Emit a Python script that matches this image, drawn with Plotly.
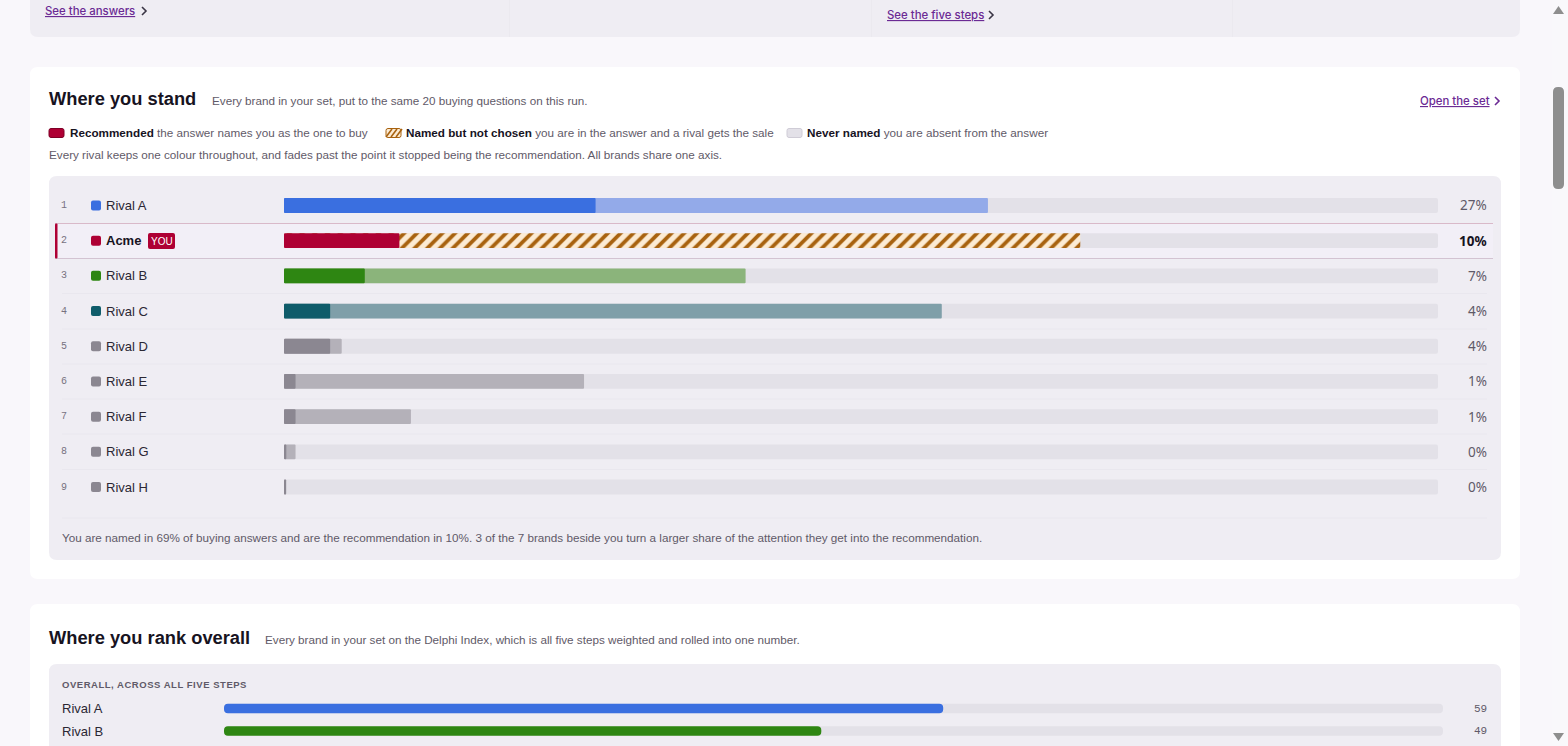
import plotly.graph_objects as go

W, H = 1568, 746

# chart data
brands = ["Rival A", "Acme", "Rival B", "Rival C", "Rival D", "Rival E", "Rival F", "Rival G", "Rival H"]
ranks = [1, 2, 3, 4, 5, 6, 7, 8, 9]
recommended = [27, 10, 7, 4, 4, 1, 1, 0.2, 0.1]
named = [61, 69, 40, 57, 5, 26, 11, 1, 0.2]
value_labels = ["27%", "10%", "7%", "4%", "4%", "1%", "1%", "0%", "0%"]
rec_colors = ["#3a6fe0", "#ae0034", "#2e8612", "#0f5c6a", "#8b8791", "#8b8791", "#8b8791", "#8b8791", "#8b8791"]
named_colors = ["#93aae9", "#fcebd3", "#8bb47b", "#7f9fa9", "#b4b1b9", "#b4b1b9", "#b4b1b9", "#b4b1b9", "#b4b1b9"]

overall_brands = ["Rival A", "Rival B"]
overall_index = [59, 49]
overall_colors = ["#3a6fe0", "#2e8612"]
full_scale = 100

TRACK = "#e3e1e8"
PAGE = "#f9f7fb"
PANEL = "#efedf3"
INK = "#17131f"
MUTED = "#5f5a68"
LINK = "#6b2a94"
HATCH = "#a8620f"
BODY = "Liberation Sans"
NUM = "Noto Sans"
SMALL = 11.7
HEAD = 18.3


def X(px):
    return px / W


def Y(py):
    return 1 - py / H


def rounded(x0, y0, x1, y1, r):
    a, b, c, d = X(x0), Y(y0), X(x1), Y(y1)
    rx, ry = r / W, r / H
    return (f"M{a + rx},{b} L{c - rx},{b} Q{c},{b} {c},{b - ry} L{c},{d + ry} Q{c},{d} {c - rx},{d} "
            f"L{a + rx},{d} Q{a},{d} {a},{d + ry} L{a},{b - ry} Q{a},{b} {a + rx},{b} Z")


shapes = []
annotations = []


def box(x0, y0, x1, y1, fill, r=0, line=None, lw=1):
    shapes.append(dict(type="path", path=rounded(x0, y0, x1, y1, r), xref="paper", yref="paper",
                       fillcolor=fill, line=dict(color=line or fill, width=lw if line else 0), layer="below"))


def stroke(points, color, width=1, layer="below"):
    path = "M" + " L".join(f"{X(a)},{Y(b)}" for a, b in points)
    shapes.append(dict(type="path", path=path, xref="paper", yref="paper",
                       line=dict(color=color, width=width), layer=layer))


def text(x, y, s, size=SMALL, color=MUTED, anchor="left", family=BODY, weight=None):
    font = dict(size=size, color=color, family=family)
    if weight:
        font["weight"] = weight
    annotations.append(dict(x=X(x), y=Y(y), xref="paper", yref="paper", text=s,
                            showarrow=False, xanchor=anchor, yanchor="middle", borderpad=0, borderwidth=0,
                            font=font))


def chevron(x, y, color):
    stroke([(x, y - 4), (x + 4, y), (x, y + 4)], color, 1.6, layer="above")


def link(x, y, s, anchor="left"):
    text(x, y, f"<u>{s}</u>", 11.4, LINK, anchor=anchor, family="Inter", weight=500)


# page furniture
box(30, -20, 1520, 37, PANEL, 8)
for x in (509.5, 871.5, 1232.5):
    stroke([(x, 0), (x, 37)], "#ebe9ef")
box(30, 67, 1520, 579, "#ffffff", 8)
box(49, 176, 1501, 560, PANEL, 8)
box(30, 604, 1520, 790, "#ffffff", 8)
box(49, 664, 1501, 790, PANEL, 8)

# scrollbar
box(1552, 0, 1568, 746, "#f9f8fb")
box(1553, 87, 1564, 189, "#8e8e8e", 5)
shapes.append(dict(type="path", xref="paper", yref="paper", fillcolor="#8e8e8e", line=dict(width=0), layer="below",
                   path=f"M{X(1553)},{Y(14)} L{X(1564)},{Y(14)} L{X(1558.5)},{Y(6)} Z"))
shapes.append(dict(type="path", xref="paper", yref="paper", fillcolor="#8e8e8e", line=dict(width=0), layer="below",
                   path=f"M{X(1553)},{Y(733)} L{X(1564)},{Y(733)} L{X(1558.5)},{Y(741)} Z"))

# links in the card above
link(45, 11, "See the answers")
chevron(142, 11, "#3a3545")
link(887, 15, "See the five steps")
chevron(989, 15, "#3a3545")

# header of the first card
text(49, 98.5, "<b>Where you stand</b>", HEAD, INK)
text(212, 100.6, "Every brand in your set, put to the same 20 buying questions on this run.")
link(1490, 101, "Open the set", anchor="right")
chevron(1495, 101, LINK)

# legend row
box(49, 128.5, 64, 137.5, rec_colors[1], 2, line="#7e0026")
text(70, 132.4, f'<b><span style="color:{INK}">Recommended</span></b> the answer names you as the one to buy')
box(386, 128.5, 401, 137.5, named_colors[1], 2, line=HATCH)
for off in (0, 5, 10):
    stroke([(386 + off, 137), (392 + off, 129)], HATCH, 1.6)
text(406, 132.4, f'<b><span style="color:{INK}">Named but not chosen</span></b> you are in the answer and a rival gets the sale')
box(787, 128.5, 802, 137.5, TRACK, 2, line="#cfccd6")
text(807, 132.4, f'<b><span style="color:{INK}">Never named</span></b> you are absent from the answer')
text(49, 154.4, "Every rival keeps one colour throughout, and fades past the point it stopped being the recommendation. All brands share one axis.")

# highlighted row and separators
box(55, 223.5, 1493, 258.5, "#f2eff7")
stroke([(55, 223.5), (1493, 223.5)], "#d9b9c9")
stroke([(55, 258.5), (1493, 258.5)], "#d3c3d2")
box(55, 223.5, 57.5, 258.5, rec_colors[1], 1)
for sep in (293.5, 329, 364, 399, 434, 469.5, 518):
    stroke([(62, sep), (1487, sep)], "#e9e7ee")

# row labels, tied to the category axis
SWATCH = "M2,-5 L8,-5 Q10,-5 10,-3 L10,3 Q10,5 8,5 L2,5 Q0,5 0,3 L0,-3 Q0,-5 2,-5 Z"
for i, b in enumerate(brands):
    you = b == "Acme"
    annotations.append(dict(x=X(60), y=b, xref="paper", yref="y", text=str(ranks[i]), showarrow=False,
                            xanchor="left", yanchor="middle", borderpad=0,
                            font=dict(size=10, color="#77727f", family="Liberation Mono")))
    annotations.append(dict(x=X(105.5), y=b, xref="paper", yref="y", text=f"<b>{b}</b>" if you else b, showarrow=False,
                            xanchor="left", yanchor="middle", borderpad=0,
                            font=dict(size=13, color=INK if you else "#2b2733", family=BODY)))
    annotations.append(dict(x=X(1488), y=b, xref="paper", yref="y", text=f"<b>{value_labels[i]}</b>" if you else value_labels[i],
                            showarrow=False, xanchor="right", yanchor="middle", borderpad=0,
                            font=dict(size=13.5, color=INK if you else MUTED, family=NUM)))
    shapes.append(dict(type="path", xref="paper", yref="y", xsizemode="pixel", ysizemode="pixel",
                       xanchor=X(91), yanchor=i, path=SWATCH, fillcolor=rec_colors[i], line=dict(width=0), layer="below"))

# YOU badge
box(148, 233, 175, 249, rec_colors[1], 2)
text(161.5, 241, "YOU", 10, "#ffffff", anchor="center")

# footer line and second card header
text(62, 537.2, "You are named in 69% of buying answers and are the recommendation in 10%. 3 of the 7 brands beside you turn a larger share of the attention they get into the recommendation.")
text(49, 637.5, "<b>Where you rank overall</b>", HEAD, INK)
text(265, 639.4, "Every brand in your set on the Delphi Index, which is all five steps weighted and rolled into one number.")
text(62, 684, '<b><span style="letter-spacing:0.53px">OVERALL, ACROSS ALL FIVE STEPS</span></b>', 9.5, MUTED)
for b, v in zip(overall_brands, overall_index):
    annotations.append(dict(x=X(60.5), y=b, xref="paper", yref="y2", text=b, showarrow=False, xanchor="left",
                            yanchor="middle", borderpad=0, font=dict(size=13, color="#2b2733", family=BODY)))
    annotations.append(dict(x=X(1487.5), y=b, xref="paper", yref="y2", text=str(v), showarrow=False, xanchor="right",
                            yanchor="middle", borderpad=0, font=dict(size=11, color=MUTED, family="Liberation Mono")))

fig = go.Figure()


# an explicit base makes plotly round both ends of the bar, not only the tip
def add_bar(y, values, marker, name, **axes):
    fig.add_trace(go.Bar(y=y, x=values, base=[0] * len(values), orientation="h", width=0.42,
                         marker=dict(line=dict(width=0), **marker), name=name, **axes))


add_bar(brands, [full_scale] * len(brands), dict(color=TRACK, cornerradius=2), "Never named")
add_bar(brands, [0 if b == "Acme" else n for b, n in zip(brands, named)],
        dict(color=named_colors, cornerradius=1.5), "Named but not chosen")
# Acme's named bar is the only hatched one, so it gets its own trace
add_bar(["Acme"], [named[brands.index("Acme")]],
        dict(color="#fcebd3", cornerradius=1.5,
             pattern=dict(shape="/", fgcolor=HATCH, bgcolor="#fcebd3", fgopacity=1, size=9, solidity=0.42)),
        "Named but not chosen, you")
add_bar(brands, recommended, dict(color=rec_colors, cornerradius=1.5), "Recommended")

axes2 = dict(xaxis="x2", yaxis="y2")
add_bar(overall_brands, [full_scale] * len(overall_brands), dict(color=TRACK, cornerradius=4), "Scale", **axes2)
add_bar(overall_brands, overall_index, dict(color=overall_colors, cornerradius=4), "Delphi Index", **axes2)

fig.update_layout(
    width=W,
    height=H,
    autosize=False,
    margin=dict(l=0, r=0, t=0, b=0),
    paper_bgcolor=PAGE,
    plot_bgcolor="rgba(0,0,0,0)",
    barmode="overlay",
    showlegend=False,
    shapes=shapes,
    annotations=annotations,
    font=dict(family=BODY),
    xaxis=dict(domain=[X(284), X(1438)], range=[0, full_scale], visible=False, fixedrange=True),
    yaxis=dict(domain=[Y(504.6), Y(187.9)], type="category", categoryorder="array", categoryarray=brands,
               range=[8.5, -0.5], visible=False, fixedrange=True),
    xaxis2=dict(domain=[X(224), X(1443)], range=[0, full_scale], visible=False, fixedrange=True, anchor="y2"),
    yaxis2=dict(domain=[Y(742.25), Y(697.25)], type="category", categoryorder="array", categoryarray=overall_brands,
                range=[1.5, -0.5], visible=False, fixedrange=True, anchor="x2"),
)

fig.write_html("out.html", config=dict(displayModeBar=False),
               post_script="document.body.style.margin='0';document.body.style.overflow='hidden';")
